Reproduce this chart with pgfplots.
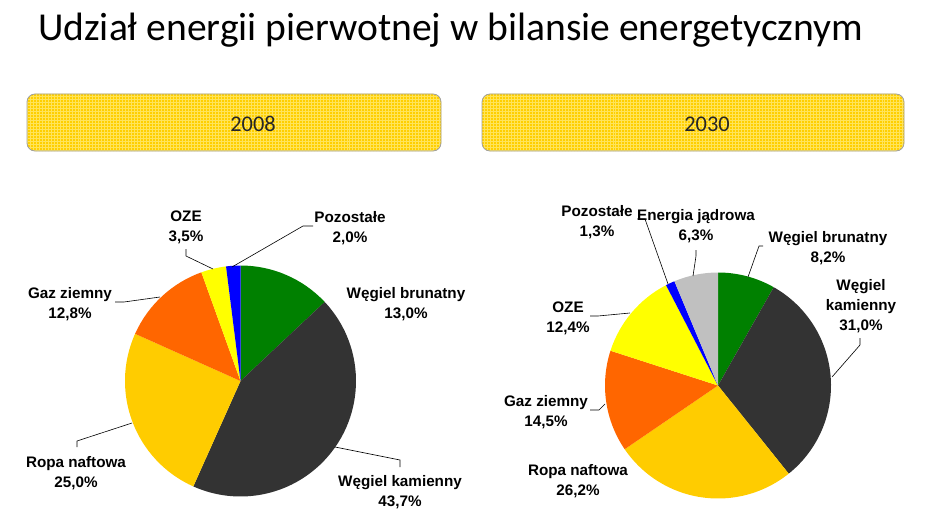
\documentclass[border=0pt]{standalone}
\usepackage{pgfplots}
\pgfplotsset{compat=1.18}
\usepackage{pgfplotstable}
\usepackage{fontspec}
\setmainfont{Liberation Sans}
\newfontfamily\calibri{Carlito}
\usetikzlibrary{patterns}

\definecolor{cGreen}{HTML}{008000}
\definecolor{cDark}{HTML}{333333}
\definecolor{cGold}{HTML}{FFCC00}
\definecolor{cOrange}{HTML}{FF6600}
\definecolor{cYellow}{HTML}{FFFF00}
\definecolor{cBlue}{HTML}{0000FF}
\definecolor{cSilver}{HTML}{C0C0C0}
\definecolor{boxBase}{HTML}{FFCF00}
\definecolor{boxGrid}{HTML}{FFE45A}
\definecolor{boxBorder}{HTML}{A0A0A0}

% 2008, clockwise from 12 o'clock
\pgfplotstableread{
val col
13.0 cGreen
43.7 cDark
25.0 cGold
12.8 cOrange
3.5 cYellow
2.0 cBlue
}\pieA
% 2030
\pgfplotstableread{
val col
8.2 cGreen
31.0 cDark
26.2 cGold
14.5 cOrange
12.4 cYellow
1.3 cBlue
6.3 cSilver
}\pieB

\newcommand\drawpie[4]{%
  \pgfplotstablegetrowsof{#1}%
  \pgfmathtruncatemacro\pielast{\pgfplotsretval-1}%
  \gdef\pietotal{0}%
  \foreach \k in {0,...,\pielast}{%
    \pgfplotstablegetelem{\k}{val}\of{#1}%
    \pgfmathsetmacro\tmp{\pietotal+\pgfplotsretval}%
    \xdef\pietotal{\tmp}%
  }%
  \gdef\pieangle{90}%
  \foreach \k in {0,...,\pielast}{%
    \pgfplotstablegetelem{\k}{val}\of{#1}%
    \pgfmathsetmacro\pieend{\pieangle-360*\pgfplotsretval/\pietotal}%
    \pgfplotstablegetelem{\k}{col}\of{#1}%
    \edef\piecol{\pgfplotsretval}%
    \fill[fill=\piecol] (axis cs:#2,#3) -- ++(\pieangle:#4) arc[start angle=\pieangle, end angle=\pieend, radius=#4] -- cycle;
    \xdef\pieangle{\pieend}%
  }%
}

\newcommand\labfont{\bfseries\fontsize{15.3}{18}\selectfont}
\newcommand\labA[4]{% x, baseline y, line1, line2
  \node[anchor=base, font=\labfont, inner sep=0pt] at (axis cs:#1,#2) {#3};
  \node[anchor=base, font=\labfont, inner sep=0pt] at (axis cs:#1,#2+20) {#4};
}

\begin{document}
\begin{tikzpicture}
\useasboundingbox (0,0) rectangle (932bp,524bp);
\begin{axis}[at={(0,0)}, anchor=south west, width=932bp, height=524bp, scale only axis,
  xmin=0, xmax=932, ymin=0, ymax=524, y dir=reverse, hide axis, clip=false]

% title
\node[anchor=base west, font=\calibri\fontsize{39.7}{44}\selectfont, inner sep=0pt] at (axis cs:38,41) {Udział energii pierwotnej w bilansie energetycznym};

% year boxes
\fill[boxBase, rounded corners=8bp] (axis cs:27,94) rectangle (axis cs:441,151);
\fill[pattern=grid, pattern color=boxGrid, rounded corners=8bp] (axis cs:27,94) rectangle (axis cs:441,151);
\draw[boxBorder, line width=0.8bp, rounded corners=8bp] (axis cs:27,94) rectangle (axis cs:441,151);
\fill[boxBase, rounded corners=8bp] (axis cs:482,94) rectangle (axis cs:904,151);
\fill[pattern=grid, pattern color=boxGrid, rounded corners=8bp] (axis cs:482,94) rectangle (axis cs:904,151);
\draw[boxBorder, line width=0.8bp, rounded corners=8bp] (axis cs:482,94) rectangle (axis cs:904,151);
\node[anchor=base, font=\calibri\fontsize{22.5}{26}\selectfont, text=black!85, inner sep=0pt] at (axis cs:253,131.5) {2008};
\node[anchor=base, font=\calibri\fontsize{22.5}{26}\selectfont, text=black!85, inner sep=0pt] at (axis cs:707,131.5) {2030};

% pies
\pgfplotsextra{\drawpie{\pieA}{240.5}{381}{115.5bp}}
\pgfplotsextra{\drawpie{\pieB}{718}{385.5}{113bp}}

% leader lines
\draw[black, line width=0.6bp] (axis cs:313,226) -- (axis cs:303,226) -- (axis cs:232,267);
\draw[black, line width=0.6bp] (axis cs:186,249) -- (axis cs:186,256) -- (axis cs:213,269);
\draw[black, line width=0.6bp] (axis cs:115,302) -- (axis cs:124,302) -- (axis cs:160,297);
\draw[black, line width=0.6bp] (axis cs:77,447) -- (axis cs:77,441) -- (axis cs:132,423);
\draw[black, line width=0.6bp] (axis cs:335,447) -- (axis cs:400,460) -- (axis cs:400,467);

\draw[black, line width=0.6bp] (axis cs:637,219) -- (axis cs:645,219) -- (axis cs:668,284);
\draw[black, line width=0.6bp] (axis cs:696,250) -- (axis cs:696,256) -- (axis cs:693,276);
\draw[black, line width=0.6bp] (axis cs:763,246) -- (axis cs:759,246) -- (axis cs:748,277);
\draw[black, line width=0.6bp] (axis cs:860,338) -- (axis cs:860,345) -- (axis cs:832,377);
\draw[black, line width=0.6bp] (axis cs:590,316) -- (axis cs:598,316) -- (axis cs:630,313);
\draw[black, line width=0.6bp] (axis cs:590,410) -- (axis cs:599,410) -- (axis cs:605,404);

% labels 2008
\labA{350}{222}{Pozostałe}{2,0\%}
\labA{186}{221}{OZE}{3,5\%}
\labA{406}{298}{Węgiel brunatny}{13,0\%}
\labA{70}{298}{Gaz ziemny}{12,8\%}
\labA{76}{467}{Ropa naftowa}{25,0\%}
\labA{400}{486}{Węgiel kamienny}{43,7\%}

% labels 2030
\labA{597}{216}{Pozostałe}{1,3\%}
\labA{696}{220}{Energia jądrowa}{6,3\%}
\labA{828}{242}{Węgiel brunatny}{8,2\%}
\node[anchor=base, font=\labfont, inner sep=0pt] at (axis cs:861,290) {Węgiel};
\labA{861}{310}{kamienny}{31,0\%}
\labA{568}{312}{OZE}{12,4\%}
\labA{546}{406}{Gaz ziemny}{14,5\%}
\labA{578}{475}{Ropa naftowa}{26,2\%}

\end{axis}
\end{tikzpicture}
\end{document}
